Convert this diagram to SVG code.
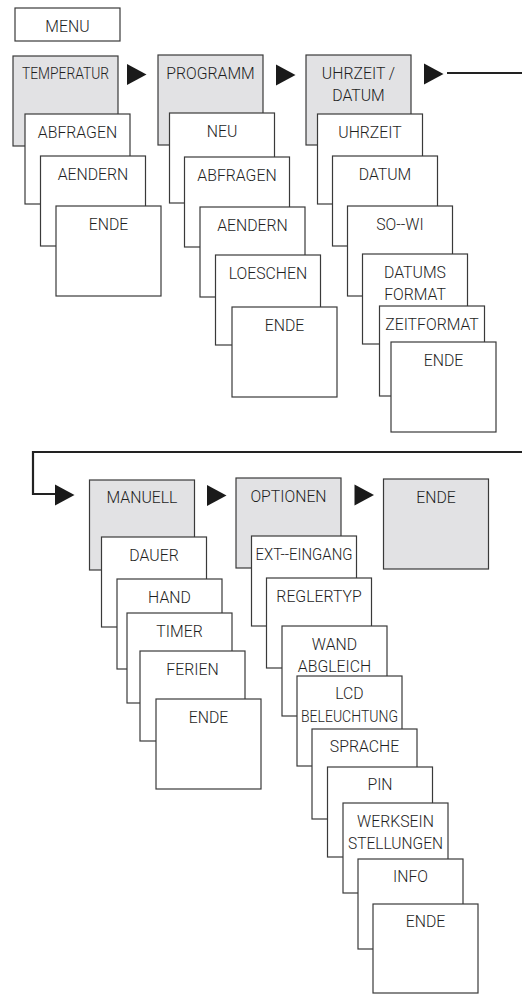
<svg xmlns="http://www.w3.org/2000/svg" width="522" height="994" viewBox="0 0 522 994">
<style>
.b{fill:#ffffff;stroke:#3a3a3a;stroke-width:1.2}
.g{fill:#e2e2e4;stroke:#3a3a3a;stroke-width:1.2}
text{font-family:Roboto,"Liberation Sans",sans-serif;font-size:15.8px;font-weight:300;fill:#1e1e1e;text-anchor:middle}
.ln{fill:none;stroke:#222222;stroke-width:2.2}
</style>
<defs>
<path id="tri" d="M0,-10.5 L19.5,0 L0,10.5 Z" fill="#1a1a1a"/>
</defs>
<rect width="522" height="994" fill="#ffffff"/>
<g id="connectors">
<use href="#tri" x="127" y="74.5"/>
<use href="#tri" x="276" y="75"/>
<use href="#tri" x="424" y="74"/>
<path class="ln" d="M447,73 H522"/>
<path class="ln" d="M522,452 H33 V494 H55"/>
<use href="#tri" x="55" y="495"/>
<use href="#tri" x="207" y="495.5"/>
<use href="#tri" x="354.5" y="495"/>
</g>
<g id="menu"><rect class="b" x="15" y="8" width="105" height="33"/><text x="67.5" y="32">MENU</text></g>

<g id="temperatur"><rect class="g" x="13" y="56" width="105" height="90"/><text x="65.5" y="79" textLength="87" lengthAdjust="spacingAndGlyphs">TEMPERATUR</text></g>
<g id="t-abfragen"><rect class="b" x="25" y="114" width="105" height="90"/><text x="77.5" y="138">ABFRAGEN</text></g>
<g id="t-aendern"><rect class="b" x="40.5" y="156" width="105" height="90"/><text x="93" y="180">AENDERN</text></g>
<g id="t-ende"><rect class="b" x="56" y="206" width="105" height="90"/><text x="108.5" y="230">ENDE</text></g>

<g id="programm"><rect class="g" x="158" y="55" width="105" height="90"/><text x="210.5" y="79">PROGRAMM</text></g>
<g id="p-neu"><rect class="b" x="169.5" y="113" width="105" height="90"/><text x="222" y="137">NEU</text></g>
<g id="p-abfragen"><rect class="b" x="184.5" y="157" width="105" height="90"/><text x="237" y="181">ABFRAGEN</text></g>
<g id="p-aendern"><rect class="b" x="200" y="207" width="105" height="90"/><text x="252.5" y="231">AENDERN</text></g>
<g id="p-loeschen"><rect class="b" x="215.5" y="255" width="105" height="90"/><text x="268" y="279">LOESCHEN</text></g>
<g id="p-ende"><rect class="b" x="232" y="307" width="105" height="90"/><text x="284.5" y="331">ENDE</text></g>

<g id="uhrzeit-datum"><rect class="g" x="306" y="55" width="105" height="90"/><text x="358.5" y="79">UHRZEIT /</text><text x="358.5" y="101">DATUM</text></g>
<g id="u-uhrzeit"><rect class="b" x="317.5" y="114" width="105" height="90"/><text x="370" y="138">UHRZEIT</text></g>
<g id="u-datum"><rect class="b" x="332.5" y="156" width="105" height="90"/><text x="385" y="180">DATUM</text></g>
<g id="u-sowi"><rect class="b" x="347.5" y="206" width="105" height="90"/><text x="400" y="230">SO--WI</text></g>
<g id="u-datumsformat"><rect class="b" x="362.5" y="254" width="105" height="90"/><text x="415" y="278">DATUMS</text><text x="415" y="300">FORMAT</text></g>
<g id="u-zeitformat"><rect class="b" x="379.5" y="306" width="105" height="90"/><text x="432" y="330">ZEITFORMAT</text></g>
<g id="u-ende"><rect class="b" x="391" y="342" width="105" height="90"/><text x="443.5" y="366">ENDE</text></g>

<g id="manuell"><rect class="g" x="89.5" y="480" width="105" height="90"/><text x="142" y="503">MANUELL</text></g>
<g id="m-dauer"><rect class="b" x="101.5" y="537" width="105" height="90"/><text x="154" y="561">DAUER</text></g>
<g id="m-hand"><rect class="b" x="117" y="579" width="105" height="90"/><text x="169.5" y="603">HAND</text></g>
<g id="m-timer"><rect class="b" x="127" y="613" width="105" height="90"/><text x="179.5" y="637">TIMER</text></g>
<g id="m-ferien"><rect class="b" x="140" y="651" width="105" height="90"/><text x="192.5" y="675">FERIEN</text></g>
<g id="m-ende"><rect class="b" x="156" y="699" width="105" height="90"/><text x="208.5" y="723">ENDE</text></g>

<g id="optionen"><rect class="g" x="236" y="478" width="105" height="90"/><text x="288.5" y="502">OPTIONEN</text></g>
<g id="o-ext-eingang"><rect class="b" x="251.5" y="536" width="105" height="90"/><text x="304" y="560" textLength="97" lengthAdjust="spacingAndGlyphs">EXT--EINGANG</text></g>
<g id="o-reglertyp"><rect class="b" x="266.5" y="578" width="105" height="90"/><text x="319" y="602">REGLERTYP</text></g>
<g id="o-wandabgleich"><rect class="b" x="282" y="626" width="105" height="90"/><text x="334.5" y="650">WAND</text><text x="334.5" y="672">ABGLEICH</text></g>
<g id="o-lcd"><rect class="b" x="297" y="676" width="105" height="90"/><text x="349.5" y="699">LCD</text><text x="349.5" y="722" textLength="97" lengthAdjust="spacingAndGlyphs">BELEUCHTUNG</text></g>
<g id="o-sprache"><rect class="b" x="312" y="729" width="105" height="90"/><text x="364.5" y="752">SPRACHE</text></g>
<g id="o-pin"><rect class="b" x="327.5" y="767" width="105" height="90"/><text x="380" y="790">PIN</text></g>
<g id="o-werkseinstellungen"><rect class="b" x="343" y="803" width="105" height="90"/><text x="395.5" y="826.5">WERKSEIN</text><text x="395.5" y="848.5" textLength="95" lengthAdjust="spacingAndGlyphs">STELLUNGEN</text></g>
<g id="o-info"><rect class="b" x="358" y="859" width="105" height="90"/><text x="410.5" y="882">INFO</text></g>
<g id="o-ende"><rect class="b" x="373" y="904" width="105" height="89"/><text x="425.5" y="927">ENDE</text></g>

<g id="ende"><rect class="g" x="383.5" y="479" width="105" height="90"/><text x="436" y="503">ENDE</text></g>
</svg>
